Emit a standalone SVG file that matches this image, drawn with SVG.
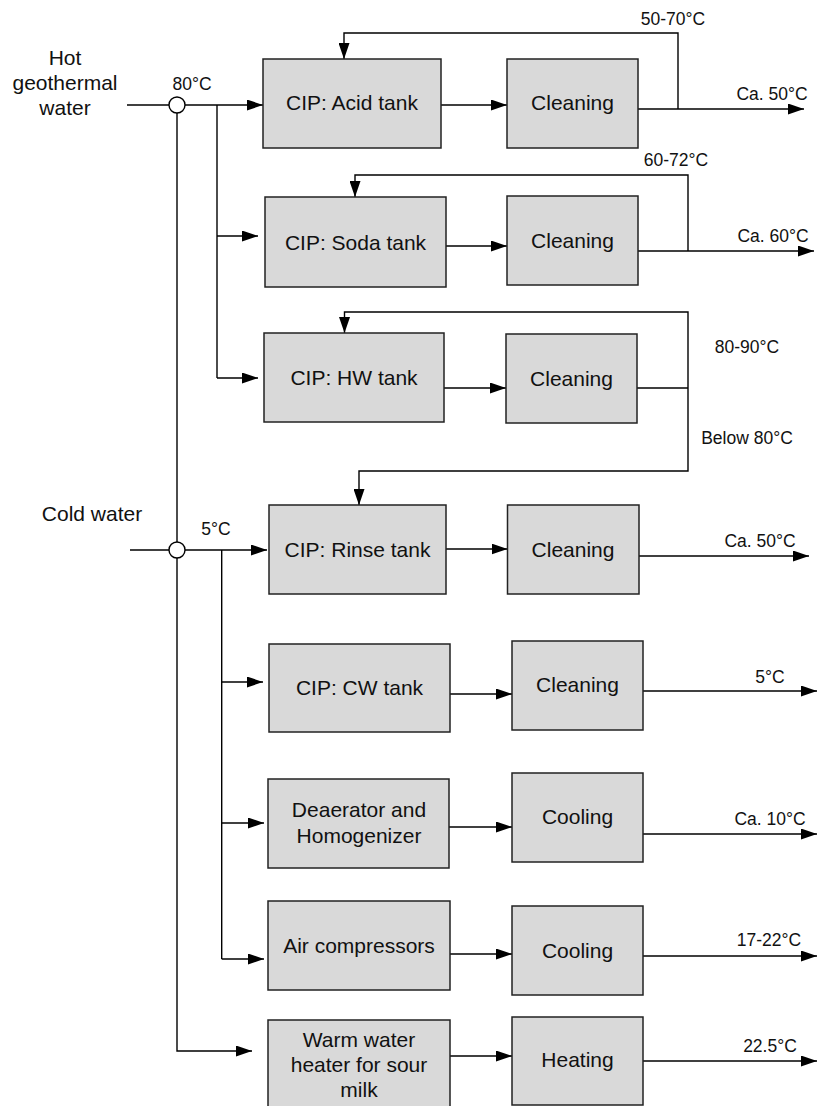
<svg xmlns="http://www.w3.org/2000/svg" width="817" height="1106" viewBox="0 0 817 1106">
<defs>
<marker id="ah" markerUnits="userSpaceOnUse" markerWidth="16" markerHeight="11" refX="16" refY="5.5" orient="auto"><path d="M0,0 L16,5.5 L0,11 z" fill="#000"/></marker>
<style>
.box{fill:#d9d9d9;stroke:#222;stroke-width:1.5}
.ln{fill:none;stroke:#000;stroke-width:1.4}
.ar{fill:none;stroke:#000;stroke-width:1.4;marker-end:url(#ah)}
.t{font-family:"Liberation Sans",Arial,sans-serif;font-size:21px;fill:#111;text-anchor:middle}
.s{font-family:"Liberation Sans",Arial,sans-serif;font-size:17.5px;fill:#111;text-anchor:middle}
.jn{fill:#fff;stroke:#000;stroke-width:1.4}
</style>
</defs>
<rect width="817" height="1106" fill="#fff"/>

<g id="connectors">
<!-- hot water inlet -->
<path class="ln" d="M127,105 H169"/>
<path class="ar" d="M185,105 H263"/>
<path class="ln" d="M217,105 V378"/>
<path class="ar" d="M217,236 H258"/>
<path class="ar" d="M217,378 H258"/>
<!-- main vertical -->
<path class="ln" d="M177,113 V542"/>
<path class="ar" d="M177,558 V1051 H252"/>
<!-- cold water -->
<path class="ln" d="M130,550 H169"/>
<path class="ar" d="M185,550 H267"/>
<path class="ln" d="M221.7,550 V959"/>
<path class="ar" d="M221.7,682 H263"/>
<path class="ar" d="M221.7,823 H264"/>
<path class="ar" d="M221.7,959 H264"/>
<!-- row 1 -->
<path class="ar" d="M441,105 H507"/>
<path class="ar" d="M638,109 H804"/>
<path class="ar" d="M678,109 V33 H344 V59"/>
<!-- row 2 -->
<path class="ar" d="M446,246 H507"/>
<path class="ar" d="M638,251 H814"/>
<path class="ar" d="M688,251 V175 H355 V197"/>
<!-- row 3 -->
<path class="ar" d="M444,388 H506"/>
<path class="ln" d="M637,388 H688"/>
<path class="ar" d="M688,388 V312 H344.5 V333"/>
<path class="ar" d="M688,388 V471 H359 V505"/>
<!-- row 4 -->
<path class="ar" d="M446,549 H507.5"/>
<path class="ar" d="M639,556 H809"/>
<!-- row 5 -->
<path class="ar" d="M450,694 H512"/>
<path class="ar" d="M643,691 H817"/>
<!-- row 6 -->
<path class="ar" d="M449,827 H512"/>
<path class="ar" d="M643,834 H817"/>
<!-- row 7 -->
<path class="ar" d="M450,954 H512"/>
<path class="ar" d="M643,956 H817"/>
<!-- row 8 -->
<path class="ar" d="M450,1056 H512"/>
<path class="ar" d="M643,1061 H817"/>
</g>

<g id="junction-hot"><circle class="jn" cx="177" cy="105" r="8"/></g>
<g id="junction-cold"><circle class="jn" cx="177" cy="550" r="8"/></g>

<g id="labels">
<text class="t" x="65" y="65">Hot</text>
<text class="t" x="65" y="90">geothermal</text>
<text class="t" x="65" y="115">water</text>
<text class="s" x="192" y="90">80°C</text>
<text class="t" x="92" y="521">Cold water</text>
<text class="s" x="216" y="535">5°C</text>
<text class="s" x="673" y="25">50-70°C</text>
<text class="s" x="772" y="100">Ca. 50°C</text>
<text class="s" x="676" y="166">60-72°C</text>
<text class="s" x="773" y="241.5">Ca. 60°C</text>
<text class="s" x="747" y="353">80-90°C</text>
<text class="s" x="747" y="444">Below 80°C</text>
<text class="s" x="760" y="547">Ca. 50°C</text>
<text class="s" x="770" y="682.5">5°C</text>
<text class="s" x="770" y="825">Ca. 10°C</text>
<text class="s" x="769" y="946">17-22°C</text>
<text class="s" x="770" y="1051.5">22.5°C</text>
</g>

<g id="acid-tank"><rect class="box" x="263" y="59" width="178" height="89"/><text class="t" x="352" y="110">CIP: Acid tank</text></g>
<g id="acid-cleaning"><rect class="box" x="507" y="59" width="131" height="89"/><text class="t" x="572.5" y="110">Cleaning</text></g>

<g id="soda-tank"><rect class="box" x="265" y="197" width="181" height="90"/><text class="t" x="355.5" y="249.5">CIP: Soda tank</text></g>
<g id="soda-cleaning"><rect class="box" x="507" y="196" width="131" height="89"/><text class="t" x="572.5" y="248">Cleaning</text></g>

<g id="hw-tank"><rect class="box" x="264" y="333" width="180" height="89"/><text class="t" x="354" y="385">CIP: HW tank</text></g>
<g id="hw-cleaning"><rect class="box" x="506" y="334" width="131" height="89"/><text class="t" x="571.5" y="386">Cleaning</text></g>

<g id="rinse-tank"><rect class="box" x="269" y="505" width="177" height="89"/><text class="t" x="357.5" y="557">CIP: Rinse tank</text></g>
<g id="rinse-cleaning"><rect class="box" x="507.5" y="505" width="131.5" height="89"/><text class="t" x="573" y="557">Cleaning</text></g>

<g id="cw-tank"><rect class="box" x="269" y="644" width="181" height="88"/><text class="t" x="359.5" y="695">CIP: CW tank</text></g>
<g id="cw-cleaning"><rect class="box" x="512" y="641" width="131" height="89"/><text class="t" x="577.5" y="692">Cleaning</text></g>

<g id="deaerator"><rect class="box" x="268" y="779" width="181" height="89"/><text class="t" x="359" y="817">Deaerator and</text><text class="t" x="359" y="843">Homogenizer</text></g>
<g id="deaerator-cooling"><rect class="box" x="512" y="773" width="131" height="89"/><text class="t" x="577.5" y="824">Cooling</text></g>

<g id="air-compressors"><rect class="box" x="268" y="901" width="182" height="89"/><text class="t" x="359" y="953">Air compressors</text></g>
<g id="air-cooling"><rect class="box" x="512" y="906" width="131" height="89"/><text class="t" x="577.5" y="958">Cooling</text></g>

<g id="warm-water-heater"><rect class="box" x="268" y="1020" width="182" height="90"/><text class="t" x="359" y="1046.5">Warm water</text><text class="t" x="359" y="1071.5">heater for sour</text><text class="t" x="359" y="1096.5">milk</text></g>
<g id="heating"><rect class="box" x="512" y="1017" width="131" height="88"/><text class="t" x="577.5" y="1067">Heating</text></g>
</svg>
